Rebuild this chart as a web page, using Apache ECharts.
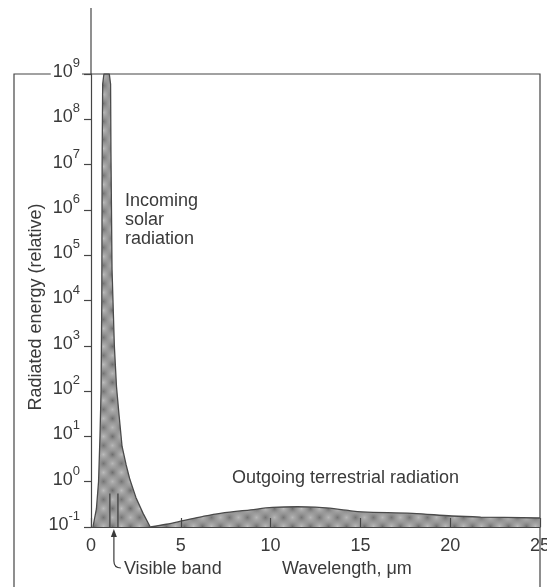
<!DOCTYPE html>
<html><head><meta charset="utf-8">
<script src="https://cdn.jsdelivr.net/npm/echarts@6/dist/echarts.min.js"></script>
<style>html,body{margin:0;padding:0;background:#fff}#c{width:547px;height:587px}</style>
</head><body><div id="c"></div>
<script>
// ---- data (wavelength in micrometres, radiated energy relative) ----
const solarWavelength = [0.11, 0.3, 0.42, 0.5, 0.56, 0.6, 0.62, 0.65, 0.72, 1.02, 1.09, 1.11, 1.17, 1.3, 1.42, 1.56, 1.73, 1.95, 2.17, 2.5, 2.9, 3.3];
const solarEnergy     = [0.1, 0.25, 1, 10, 100, 1e4, 1e7, 6e8, 1e9, 1e9, 6e8, 2e7, 5e4, 1e3, 125, 30, 6, 2.4, 1.1, 0.45, 0.2, 0.1];
const terrWavelength  = [3.3, 4.2, 5.2, 6.2, 7.2, 8.9, 10.1, 11.5, 12.5, 13.3, 14.2, 15.1, 17.9, 20.1, 21.7, 25];
const terrEnergy      = [0.1, 0.115, 0.14, 0.17, 0.2, 0.24, 0.27, 0.28, 0.275, 0.26, 0.235, 0.215, 0.2, 0.175, 0.166, 0.158];
const xTickLabels = ['0', '5', '10', '15', '20', '25'];
const yTickExponents = ['-1', '0', '1', '2', '3', '4', '5', '6', '7', '8', '9'];
const visibleBand = [1.05, 1.5];      // wavelength of the two band marks
const visibleBandTop = 0.55;          // energy level where band marks end

const FONT = "'Liberation Sans', Arial, sans-serif";
const INK = '#3a3a3a';
const LINE = '#454545';

// mottled grey fill pattern
const T = 18;
const pc = document.createElement('canvas');
pc.width = T; pc.height = T;
const g = pc.getContext('2d');
g.fillStyle = '#999999'; g.fillRect(0, 0, T, T);
function blob(cx, cy, col) {
  const rg = g.createRadialGradient(cx, cy, 0, cx, cy, 6.5);
  rg.addColorStop(0, col); rg.addColorStop(1, 'rgba(153,153,153,0)');
  g.fillStyle = rg;
  for (const dx of [-T, 0, T]) for (const dy of [-T, 0, T]) {
    g.save(); g.translate(dx, dy); g.fillRect(cx - 7, cy - 7, 14, 14); g.restore();
  }
}
blob(4.5, 4.5, '#6e6e6e'); blob(13.5, 13.5, '#747474');
blob(13.5, 4.5, '#bdbdbd'); blob(4.5, 13.5, '#b8b8b8');
const fillPattern = { image: pc, repeat: 'repeat' };

const chart = echarts.init(document.getElementById('c'), null, { renderer: 'canvas' });
const zip = (a, b) => a.map((v, i) => [v, b[i]]);

chart.setOption({
  animation: false,
  backgroundColor: '#fff',
  grid: { left: 91, right: 7, top: 74, bottom: 60, containLabel: false, outerBoundsMode: 'none' },
  xAxis: {
    type: 'value', min: 0, max: 25, interval: 5, z: 10,
    axisLine: { lineStyle: { color: LINE, width: 1.2 } },
    axisTick: { inside: true, length: 9, lineStyle: { color: LINE, width: 1.2 } },
    splitLine: { show: false },
    axisLabel: {
      margin: 10, color: INK, fontFamily: FONT, fontSize: 18, hideOverlap: false,
      formatter: v => xTickLabels[Math.round(v / 5)] ?? ''
    }
  },
  yAxis: {
    type: 'log', logBase: 10, min: 0.1, max: 1e9, interval: 1, z: 10,
    axisLine: { show: true, lineStyle: { color: LINE, width: 1.2 } },
    axisTick: { inside: false, length: 7, lineStyle: { color: LINE, width: 1.2 } },
    splitLine: { show: false },
    minorTick: { show: false },
    axisLabel: {
      margin: 9, color: INK, fontFamily: FONT, align: 'right', hideOverlap: false,
      backgroundColor: '#fff', padding: [0, 2, 10, 2],
      formatter: v => {
        const e = Math.round(Math.log10(v));
        const lab = yTickExponents.find(s => Number(s) === e);
        return '{b|10}{s|' + (lab ?? e) + '}';
      },
      rich: {
        b: { fontSize: 18, lineHeight: 24, verticalAlign: 'bottom', fontFamily: FONT, color: INK },
        s: { fontSize: 13, lineHeight: 13, verticalAlign: 'top', fontFamily: FONT, color: INK }
      }
    }
  },
  series: [
    {
      name: 'Incoming solar radiation', type: 'line', data: zip(solarWavelength, solarEnergy),
      showSymbol: false, smooth: false, z: 3,
      lineStyle: { color: '#4a4a4a', width: 1.3 },
      areaStyle: { origin: 'start', color: fillPattern, opacity: 1 }
    },
    {
      name: 'Outgoing terrestrial radiation', type: 'line', data: zip(terrWavelength, terrEnergy),
      showSymbol: false, smooth: 0.35, z: 3,
      lineStyle: { color: '#4a4a4a', width: 1.3 },
      areaStyle: { origin: 'start', color: fillPattern, opacity: 1 }
    }
  ]
});

// decorations positioned from the axes
const P = (x, y) => chart.convertToPixel({ gridIndex: 0 }, [x, y]);
const topLeft = P(0, 1e9), botRight = P(25, 0.1);
const b1 = P(visibleBand[0], 0.1), b1t = P(visibleBand[0], visibleBandTop);
const b2 = P(visibleBand[1], 0.1), b2t = P(visibleBand[1], visibleBandTop);
const ax = (b1[0] + b2[0]) / 2, ay = botRight[1];
const lineStyle = { stroke: LINE, lineWidth: 1.2, fill: null };
const dark = { stroke: '#3a3a3a', lineWidth: 1.2, fill: null };

chart.setOption({
  graphic: [
    // frame
    { type: 'polyline', z: -1, shape: { points: [[14, 590], [14, topLeft[1]], [botRight[0], topLeft[1]], [botRight[0], 590]] }, style: lineStyle },
    // y axis extension above the frame
    { type: 'line', z: -1, shape: { x1: topLeft[0], y1: 8, x2: topLeft[0], y2: topLeft[1] }, style: lineStyle },
    // visible band marks
    { type: 'line', z: 10, shape: { x1: b1[0], y1: b1[1], x2: b1t[0], y2: b1t[1] }, style: dark },
    { type: 'line', z: 10, shape: { x1: b2[0], y1: b2[1], x2: b2t[0], y2: b2t[1] }, style: dark },
    // arrow to visible band
    { type: 'line', z: 10, shape: { x1: ax, y1: ay + 9, x2: ax, y2: ay + 34 }, style: dark },
    { type: 'bezierCurve', z: 10, shape: { x1: ax, y1: ay + 34, cpx1: ax, cpy1: ay + 41, x2: ax + 7, y2: ay + 41 }, style: dark },
    { type: 'polygon', z: 10, shape: { points: [[ax, ay + 2], [ax - 3, ay + 10], [ax + 3, ay + 10]] }, style: { fill: '#3a3a3a' } },
    // texts
    { type: 'text', z: 10, x: 36, y: 307, rotation: Math.PI / 2,
      style: { text: 'Radiated energy (relative)', fontFamily: FONT, fontSize: 18, fill: INK, align: 'center', verticalAlign: 'middle' } },
    { type: 'text', z: 10, x: 125, y: 191.5,
      style: { text: 'Incoming\nsolar\nradiation', fontFamily: FONT, fontSize: 18, lineHeight: 19, fill: INK, align: 'left', verticalAlign: 'top' } },
    { type: 'text', z: 10, x: 232, y: 478,
      style: { text: 'Outgoing terrestrial radiation', fontFamily: FONT, fontSize: 18, fill: INK, align: 'left', verticalAlign: 'middle' } },
    { type: 'text', z: 10, x: ax + 10, y: ay + 42,
      style: { text: 'Visible band', fontFamily: FONT, fontSize: 18, fill: INK, align: 'left', verticalAlign: 'middle' } },
    { type: 'text', z: 10, x: 282, y: 569,
      style: { text: 'Wavelength, \u03bcm', fontFamily: FONT, fontSize: 18, fill: INK, align: 'left', verticalAlign: 'middle' } }
  ]
});
</script>
</body></html>
